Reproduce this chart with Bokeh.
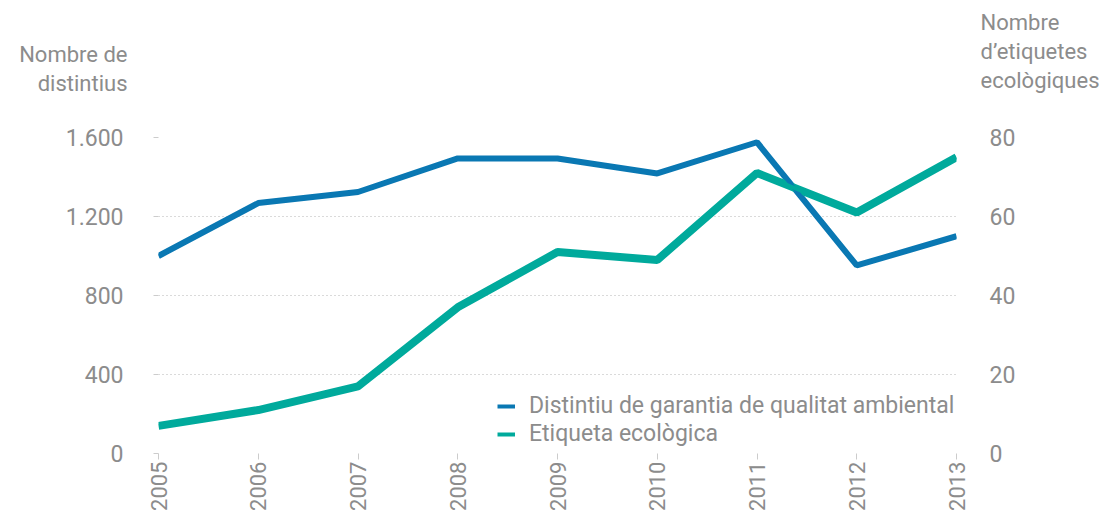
from bokeh.plotting import figure
from bokeh.layouts import column
from bokeh.models import (Range1d, LinearAxis, FixedTicker, Label, Legend, LegendItem)
from bokeh.embed import file_html
from bokeh.resources import INLINE
import math

years = [2005, 2006, 2007, 2008, 2009, 2010, 2011, 2012, 2013]
distintius = [1000, 1268, 1324, 1494, 1494, 1418, 1576, 952, 1100]
etiquetes = [7, 11, 17, 37, 51, 49, 71, 61, 75]
left_ticks = [0, 400, 800, 1200, 1600]
left_tick_labels = ["0", "400", "800", "1.200", "1.600"]
right_ticks = [0, 20, 40, 60, 80]
series_names = ["Distintiu de garantia de qualitat ambiental", "Etiqueta ecològica"]
left_title = ["Nombre de", "distintius"]
right_title = ["Nombre", "d\u2019etiquetes", "ecològiques"]

FONT = "Roboto"
GRAY = "#8c8c8c"
BLUE = "#0a78b3"
TEAL = "#00aa9c"
FS = "23px"
TFS = "22px"

W = 1103
TOP_H = 110

# header figure holding the two axis titles
h = figure(width=W, height=TOP_H, output_backend="svg", toolbar_location=None,
           x_axis_location=None, y_axis_location=None,
           x_range=Range1d(0, 1), y_range=Range1d(0, 1),
           min_border_left=0, min_border_right=0, min_border_top=0, min_border_bottom=0)
h.frame_align = False
h.outline_line_color = None
h.xgrid.visible = False
h.ygrid.visible = False
for txt, y in zip(left_title, [56, 27]):
    h.add_layout(Label(x=127, y=y, x_units="screen", y_units="screen", text=txt,
                       text_font=FONT, text_font_size=TFS, text_color=GRAY,
                       text_align="right", text_baseline="alphabetic"))
for txt, y in zip(right_title, [88, 59, 30]):
    h.add_layout(Label(x=980, y=y, x_units="screen", y_units="screen", text=txt,
                       text_font=FONT, text_font_size=TFS, text_color=GRAY,
                       text_align="left", text_baseline="alphabetic"))

p = figure(width=W, height=513 - TOP_H, output_backend="svg", toolbar_location=None,
           x_range=Range1d(2005, 2013), y_range=Range1d(0, 1600),
           min_border_left=158, min_border_right=147, min_border_top=137 - TOP_H,
           min_border_bottom=59)
p.frame_align = False
p.outline_line_color = None
p.extra_y_ranges = {"r": Range1d(0, 80)}

l1 = p.line(years, distintius, line_color=BLUE, line_width=6)
l2 = p.line(years, etiquetes, line_color=TEAL, line_width=8, y_range_name="r")
# thinner copies (hidden under the main lines) used as legend keys
k1 = p.line(years, distintius, line_color=BLUE, line_width=4)
k2 = p.line(years, etiquetes, line_color=TEAL, line_width=4, y_range_name="r")

# axes
p.xaxis.ticker = FixedTicker(ticks=years)
p.xaxis.major_label_orientation = math.pi / 2
p.xaxis.axis_line_color = None
p.xaxis.major_tick_line_color = "#cccccc"
p.xaxis.major_tick_out = 6
p.xaxis.major_tick_in = 0
p.xaxis.minor_tick_line_color = None
p.xaxis.major_label_standoff = 2

p.yaxis.ticker = FixedTicker(ticks=left_ticks)
p.yaxis.major_label_overrides = {t: s for t, s in zip(left_ticks, left_tick_labels)}
p.yaxis.axis_line_color = None
p.yaxis.major_tick_line_color = "#cccccc"
p.yaxis.major_tick_out = 5
p.yaxis.major_tick_in = 0
p.yaxis.minor_tick_line_color = None
p.yaxis.major_label_standoff = 30

ra = LinearAxis(y_range_name="r", ticker=FixedTicker(ticks=right_ticks))
ra.axis_line_color = None
ra.major_tick_line_color = None
ra.minor_tick_line_color = None
ra.major_label_standoff = 27
p.add_layout(ra, "right")

for ax in [p.yaxis[0], ra]:
    ax.major_label_text_font = FONT
    ax.major_label_text_font_size = FS
    ax.major_label_text_color = GRAY
p.xaxis.major_label_text_font = FONT
p.xaxis.major_label_text_font_size = TFS
p.xaxis.major_label_text_color = GRAY

p.xgrid.grid_line_color = None
p.ygrid.ticker = FixedTicker(ticks=left_ticks)
p.ygrid.grid_line_color = "#b5b5b5"
p.ygrid.grid_line_dash = "1 3"
p.ygrid.grid_line_width = 1

legend = Legend(items=[LegendItem(label=series_names[0], renderers=[k1]),
                       LegendItem(label=series_names[1], renderers=[k2])],
                location=(339, 6), orientation="vertical",
                label_text_font=FONT, label_text_font_size=FS, label_text_color=GRAY,
                glyph_width=18, glyph_height=20, label_standoff=14, spacing=1,
                padding=0, margin=0, border_line_color=None, background_fill_alpha=0)
p.add_layout(legend, "center")

layout = column(h, p, spacing=0)
open("out.html", "w").write(file_html(layout, INLINE))
